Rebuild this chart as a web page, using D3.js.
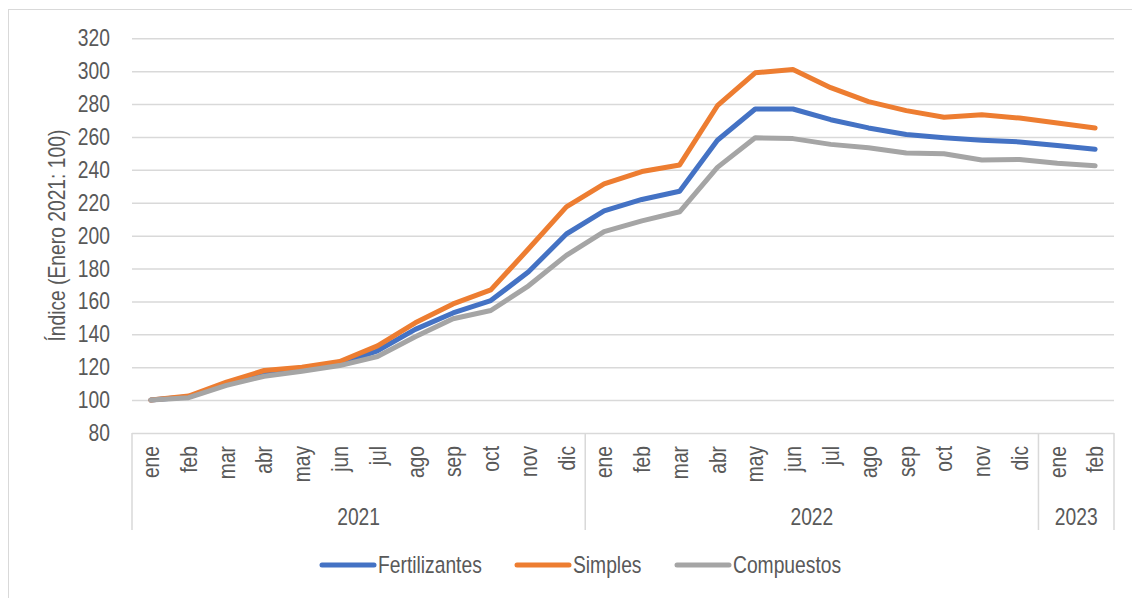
<!DOCTYPE html>
<html>
<head>
<meta charset="utf-8">
<script src="https://cdn.jsdelivr.net/npm/d3@7/dist/d3.min.js"></script>
<style>
  html, body { margin: 0; padding: 0; background: #fff; }
  svg { display: block; }
  text { font-family: "Liberation Sans Narrow", "Arial Narrow", "Liberation Sans", sans-serif; fill: #595959; }
</style>
</head>
<body>
<svg id="chart" width="1132" height="598"></svg>
<script>
const months = ["ene","feb","mar","abr","may","jun","jul","ago","sep","oct","nov","dic",
                "ene","feb","mar","abr","may","jun","jul","ago","sep","oct","nov","dic",
                "ene","feb"];
const monthYears = [2021,2021,2021,2021,2021,2021,2021,2021,2021,2021,2021,2021,
                    2022,2022,2022,2022,2022,2022,2022,2022,2022,2022,2022,2022,
                    2023,2023];
const years = ["2021","2022","2023"];
const fertilizantes = [100,102,110,116,118.5,122,130,143,153,160.5,178,201,
                       215,222,227,258,277,277,270.5,265.5,261.5,259.5,258,257,
                       254.8,252.5];
const simples = [100,102.5,111,118,120,123.5,133,147,158.5,167,192,217.5,
                 231.5,239,243,279,299,301,290,281.5,276,272,273.5,271.5,
                 268.5,265.5];
const compuestos = [100,101.5,109,114.5,117.5,121,126.5,138.5,149.5,154.5,169.5,188,
                    202.5,209,214.5,241.5,259.5,259,255.5,253.5,250.3,249.8,246,246.3,
                    244,242.5];
const seriesNames = ["Fertilizantes","Simples","Compuestos"];
const seriesColors = ["#4472C4","#ED7D31","#A5A5A5"];
const yTicks = [80,100,120,140,160,180,200,220,240,260,280,300,320];
const yTitle = "Índice (Enero 2021: 100)";

(function () {
const svg = d3.select("#chart");
const W = 1132, H = 598;
const pL = 132, pR = 1114, pT = 38.3, pB = 433;
const FS = 23.5;
const SX = 0.82; // horizontal condensation to mimic a narrow typeface
const FF = '"Liberation Sans Narrow", "Arial Narrow", "Liberation Sans", sans-serif';

// outer border
svg.append("rect").attr("x", 8.5).attr("y", 9.5).attr("width", W - 8).attr("height", H)
  .attr("fill", "none").attr("stroke", "#D9D9D9").attr("stroke-width", 1);

const idx = months.map((m, i) => i);
const x = d3.scaleBand().domain(idx).range([pL, pR]).paddingInner(0).paddingOuter(0);
const y = d3.scaleLinear().domain([80, 320]).range([pB, pT]);

// gridlines + y labels
const yAxis = d3.axisLeft(y).tickValues(yTicks).tickSize(-(pR - pL)).tickPadding(22);
const gy = svg.append("g").attr("transform", `translate(${pL},0)`).call(yAxis);
gy.select(".domain").remove();
gy.selectAll(".tick line").attr("stroke", "#D9D9D9").attr("stroke-width", 1.5);
gy.selectAll(".tick text").attr("font-size", FS).attr("fill", "#595959").attr("font-family", FF)
  .attr("x", -22 / SX).attr("transform", `scale(${SX},1)`);

// y title
svg.append("text")
  .attr("transform", `translate(57,${(pT + pB) / 2}) rotate(-90) scale(${SX},1)`)
  .attr("text-anchor", "middle").attr("dy", "0.35em")
  .attr("font-size", FS).text(yTitle);

// category axis: month labels
const xAxis = d3.axisBottom(x).tickSize(0).tickPadding(0).tickFormat(i => months[i]);
const gx = svg.append("g").attr("transform", `translate(0,${pB})`).call(xAxis);
gx.select(".domain").remove();
gx.selectAll(".tick text")
  .attr("font-size", FS).attr("fill", "#595959").attr("font-family", FF)
  .attr("text-anchor", "end")
  .attr("transform", `rotate(-90) scale(${SX},1)`)
  .attr("x", -13 / SX).attr("y", 0).attr("dy", "0.35em");

// year groups
const groups = years.map(yr => {
  const ii = idx.filter(i => String(monthYears[i]) === yr);
  return { yr, x0: x(ii[0]), x1: x(ii[ii.length - 1]) + x.bandwidth() };
});
const sepX = [pL].concat(groups.map(g => g.x1));
svg.append("g").selectAll("line").data(sepX).join("line")
  .attr("x1", d => d).attr("x2", d => d).attr("y1", pB).attr("y2", 530)
  .attr("stroke", "#D9D9D9").attr("stroke-width", 1.5);
svg.append("g").selectAll("text").data(groups).join("text")
  .attr("transform", d => `translate(${(d.x0 + d.x1) / 2},517) scale(${SX},1)`)
  .attr("dy", "0.35em")
  .attr("text-anchor", "middle").attr("font-size", FS).text(d => d.yr);

// lines
const allSeries = [fertilizantes, simples, compuestos];
const line = d3.line().x((d, i) => x(i) + x.bandwidth() / 2).y(d => y(d));
svg.append("g").selectAll("path").data(allSeries).join("path")
  .attr("d", d => line(d)).attr("fill", "none")
  .attr("stroke", (d, i) => seriesColors[i]).attr("stroke-width", 5)
  .attr("stroke-linejoin", "round").attr("stroke-linecap", "round");

// legend
const legX = [320, 515, 675];
const lg = svg.append("g").selectAll("g").data(seriesNames).join("g")
  .attr("transform", (d, i) => `translate(${legX[i]},565)`);
lg.append("line").attr("x1", 2).attr("x2", 54).attr("y1", 0).attr("y2", 0)
  .attr("stroke", (d, i) => seriesColors[i]).attr("stroke-width", 5).attr("stroke-linecap", "round");
lg.append("text").attr("transform", `translate(58,0) scale(${SX},1)`)
  .attr("dy", "0.35em").attr("font-size", FS).text(d => d);
})();
</script>
</body>
</html>
